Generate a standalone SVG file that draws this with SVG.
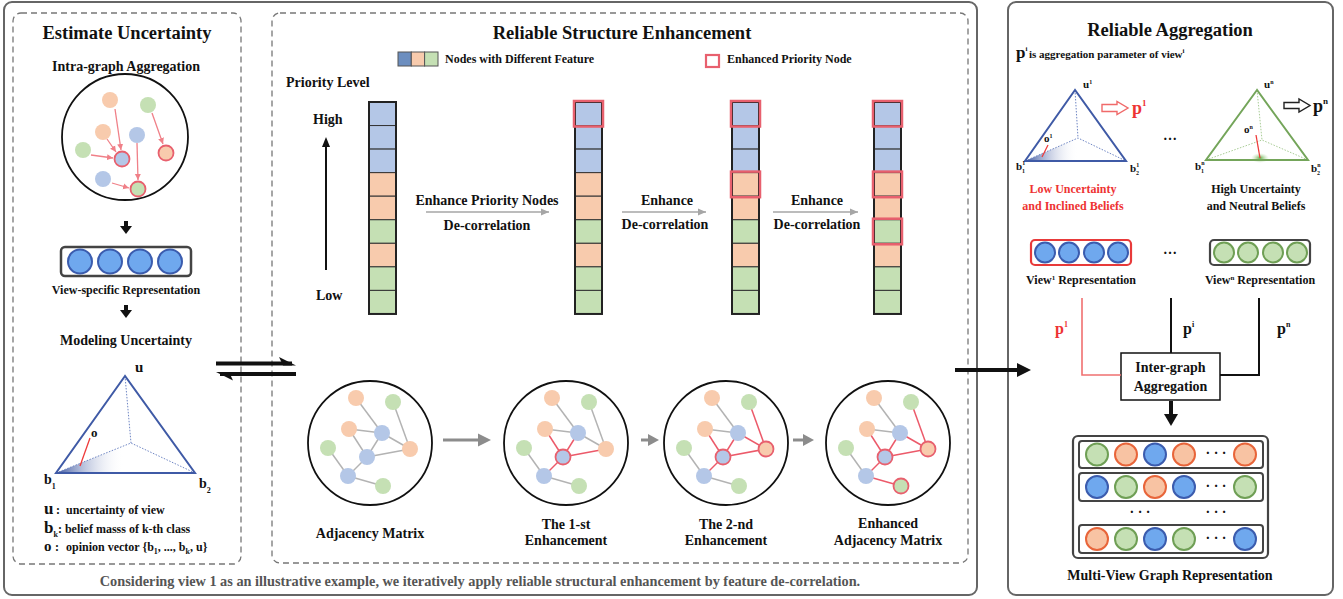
<svg xmlns="http://www.w3.org/2000/svg" width="1343" height="599" viewBox="0 0 1343 599">
<defs>
<style>
text{font-family:"Liberation Serif","Times New Roman",serif;font-weight:bold;fill:#111}
.c{text-anchor:middle}
.t1{font-size:18.5px}
.t2{font-size:14px}
.t3{font-size:12px}
.panel{fill:none;stroke:#666;stroke-width:2}
.dash{fill:none;stroke:#777;stroke-width:1.3;stroke-dasharray:6 4}
.nb{fill:#b4c7e7}
.no{fill:#f8cbad}
.ng{fill:#c5e0b4}
.hl{stroke:#e8606e;stroke-width:1.8}
.eg{stroke:#b3b3b3;stroke-width:1.5}
.er{stroke:#ec5a6a;stroke-width:1.5}
.ring{fill:#fff;stroke:#111;stroke-width:1.8}
.cell{stroke:#333;stroke-width:1}
.colframe{fill:none;stroke:#222;stroke-width:2}
.redbox{fill:none;stroke:#e8606e;stroke-width:2.5}
.pink{stroke:#f08088;stroke-width:1.3;fill:none;marker-end:url(#pinkHead)}
.garrow{stroke:#a6a6a6;stroke-width:1.5;fill:none;marker-end:url(#thinHead)}
.bigarrow{stroke:#8c8c8c;stroke-width:3;fill:none}
.tri{fill:none;stroke-width:2}
.dot{fill:none;stroke-width:1;stroke-dasharray:1.5 1.5}
.rb{fill:#6fa8ee;stroke:#3b5cae;stroke-width:2}
.rg{fill:#c5e0b4;stroke:#6f9f55;stroke-width:2}
.ro{fill:#f8c3a3;stroke:#e8653a;stroke-width:2}
</style>
<marker id="pinkHead" markerUnits="userSpaceOnUse" markerWidth="7" markerHeight="7" refX="6" refY="3.5" orient="auto">
<path d="M0,0.5 L6,3.5 L0,6.5 Z" fill="#f08088"/>
</marker>
<marker id="thinHead" markerUnits="userSpaceOnUse" markerWidth="9" markerHeight="8" refX="8" refY="4" orient="auto">
<path d="M0,0.5 L8,4 L0,7.5 Z" fill="#a6a6a6"/>
</marker>
<linearGradient id="shadeL" gradientUnits="userSpaceOnUse" x1="56" y1="0" x2="124" y2="0">
<stop offset="0" stop-color="#3b559f"/>
<stop offset="1" stop-color="#ffffff" stop-opacity="0"/>
</linearGradient>
<linearGradient id="shadeR" gradientUnits="userSpaceOnUse" x1="1025" y1="0" x2="1078" y2="0">
<stop offset="0" stop-color="#3b559f"/>
<stop offset="1" stop-color="#ffffff" stop-opacity="0"/>
</linearGradient>
<radialGradient id="glowG">
<stop offset="0" stop-color="#5fae45"/>
<stop offset="1" stop-color="#c5e0b4" stop-opacity="0"/>
</radialGradient>
<!-- one 9-cell priority column -->
<g id="column">
<rect class="cell nb" x="0" y="0" width="27" height="23.55"/>
<rect class="cell nb" x="0" y="23.55" width="27" height="23.55"/>
<rect class="cell nb" x="0" y="47.1" width="27" height="23.55"/>
<rect class="cell no" x="0" y="70.65" width="27" height="23.55"/>
<rect class="cell no" x="0" y="94.2" width="27" height="23.55"/>
<rect class="cell ng" x="0" y="117.75" width="27" height="23.55"/>
<rect class="cell no" x="0" y="141.3" width="27" height="23.55"/>
<rect class="cell ng" x="0" y="164.85" width="27" height="23.55"/>
<rect class="cell ng" x="0" y="188.4" width="27" height="23.55"/>
<rect class="colframe" x="0" y="0" width="27" height="211.95"/>
</g>
</defs>

<rect width="1343" height="599" fill="#fff"/>

<!-- panel frames -->
<rect class="panel" x="4" y="2" width="973" height="593" rx="8"/>
<rect class="panel" x="1008" y="2" width="325" height="593" rx="8"/>
<rect class="dash" x="13" y="13" width="228" height="551" rx="8"/>
<rect class="dash" x="272" y="13" width="696" height="550" rx="8"/>

<!-- ===== Estimate Uncertainty ===== -->
<g id="estimate-uncertainty">
<text class="t1 c" x="127" y="39">Estimate Uncertainty</text>
<text class="t2 c" x="126" y="71">Intra-graph Aggregation</text>
</g>

<g id="intra-graph">
<circle class="ring" cx="125" cy="137" r="63"/>
<line class="pink" x1="115" y1="109" x2="121" y2="150"/>
<line class="pink" x1="107" y1="139" x2="116" y2="152"/>
<line class="pink" x1="91" y1="155" x2="113" y2="158"/>
<line class="pink" x1="152" y1="113" x2="163" y2="144"/>
<line class="pink" x1="137" y1="143" x2="138" y2="180"/>
<line class="pink" x1="112" y1="183" x2="129" y2="188"/>
<circle class="no" cx="110" cy="100" r="8"/>
<circle class="ng" cx="148" cy="105" r="8"/>
<circle class="no" cx="103" cy="132" r="8"/>
<circle class="nb" cx="137" cy="135" r="8"/>
<circle class="ng" cx="83" cy="150" r="8"/>
<circle class="nb hl" cx="122" cy="159" r="7.5"/>
<circle class="no hl" cx="166" cy="153" r="7.5"/>
<circle class="nb" cx="103" cy="179" r="8"/>
<circle class="ng hl" cx="138" cy="189" r="7.5"/>
</g>

<g id="view-specific-representation">
<rect x="61" y="247" width="130" height="29" rx="4" fill="#fff" stroke="#444" stroke-width="2.5"/>
<circle class="rb" cx="80" cy="261.5" r="12"/>
<circle class="rb" cx="110" cy="261.5" r="12"/>
<circle class="rb" cx="140" cy="261.5" r="12"/>
<circle class="rb" cx="170" cy="261.5" r="12"/>
<text class="t3 c" x="126" y="294">View-specific Representation</text>
</g>

<g id="modeling-uncertainty">
<text class="t2 c" x="126" y="345">Modeling Uncertainty</text>
<polygon points="56,473 131,443 195,473" fill="url(#shadeL)"/>
<polyline class="dot" stroke="#6f86c4" points="125,376 131,443"/>
<polyline class="dot" stroke="#6f86c4" points="56,473 131,443 195,473"/>
<polygon class="tri" stroke="#3f5aa6" points="125,376 56,473 195,473"/>
<line x1="90" y1="438" x2="80" y2="466" stroke="#ee3b3b" stroke-width="1.3"/>
<text x="135" y="372" style="font-size:15px">u</text>
<text x="91" y="437" style="font-size:13px">o</text>
<text x="44" y="484" style="font-size:14px">b<tspan dy="5" style="font-size:8px">1</tspan></text>
<text x="199" y="488" style="font-size:14px">b<tspan dy="5" style="font-size:8px">2</tspan></text>
<text x="44" y="514" style="font-size:12px"><tspan style="font-size:17px">u</tspan><tspan x="56">:</tspan><tspan x="66">uncertainty of view</tspan></text>
<text x="44" y="533" style="font-size:12px"><tspan style="font-size:17px">b</tspan><tspan dy="4" style="font-size:8px">k</tspan><tspan dy="-4">: belief masss of k-th class</tspan></text>
<text x="44" y="551" style="font-size:12px"><tspan style="font-size:15px">o</tspan><tspan x="55">:</tspan><tspan x="66">opinion vector {b</tspan><tspan dy="3" style="font-size:8px">1</tspan><tspan dy="-3">, ..., b</tspan><tspan dy="3" style="font-size:8px">k</tspan><tspan dy="-3">, u}</tspan></text>
</g>

<!-- ===== Reliable Structure Enhancement ===== -->
<g id="structure-title">
<text class="t1 c" x="622" y="39">Reliable Structure Enhancement</text>
</g>

<g id="legend">
<rect x="398" y="52" width="13.3" height="14" fill="#6c8ebf" stroke="#555" stroke-width="1"/>
<rect x="411.3" y="52" width="13.3" height="14" fill="#f8cbad" stroke="#555" stroke-width="1"/>
<rect x="424.6" y="52" width="13.4" height="14" fill="#c5e0b4" stroke="#555" stroke-width="1"/>
<text class="t3" x="445" y="63">Nodes with Different Feature</text>
<rect x="706" y="55" width="13" height="12" fill="none" stroke="#e8606e" stroke-width="2.2"/>
<text class="t3" x="727" y="63">Enhanced Priority Node</text>
</g>

<g id="priority-axis">
<text class="t2" x="286" y="87">Priority Level</text>
<text class="t2" x="313" y="124">High</text>
<text class="t2" x="316" y="300">Low</text>
<line x1="326" y1="270" x2="326" y2="146" stroke="#111" stroke-width="2"/>
<path d="M326,137 L322,147 L330,147 Z" fill="#111"/>
</g>

<g id="column-0">
<use href="#column" x="369" y="102"/>
</g>
<g id="column-1">
<use href="#column" x="575" y="102"/>
<rect class="redbox" x="574" y="101" width="29" height="25.5"/>
</g>
<g id="column-2">
<use href="#column" x="732" y="102"/>
<rect class="redbox" x="731" y="101" width="29" height="25.5"/>
<rect class="redbox" x="731" y="171.6" width="29" height="25.6"/>
</g>
<g id="column-3">
<use href="#column" x="874" y="102"/>
<rect class="redbox" x="873" y="101" width="29" height="25.5"/>
<rect class="redbox" x="873" y="171.6" width="29" height="25.6"/>
<rect class="redbox" x="873" y="218.7" width="29" height="25.6"/>
</g>

<g id="step-labels">
<text class="t2 c" x="487" y="205">Enhance Priority Nodes</text>
<text class="t2 c" x="487" y="230">De-correlation</text>
<text class="t2 c" x="667" y="205">Enhance</text>
<text class="t2 c" x="665" y="229">De-correlation</text>
<text class="t2 c" x="817" y="205">Enhance</text>
<text class="t2 c" x="817" y="229">De-correlation</text>
</g>

<!-- graph snapshots -->
<g id="graph-adjacency" transform="translate(370,443)">
<circle class="ring" r="62"/>
<line class="eg" x1="-14" y1="-45" x2="12" y2="-10"/>
<line class="eg" x1="23" y1="-41" x2="40" y2="6"/>
<line class="eg" x1="-21" y1="-14" x2="12" y2="-10"/>
<line class="eg" x1="12" y1="-10" x2="40" y2="6"/>
<line class="eg" x1="12" y1="-10" x2="-3" y2="14"/>
<line class="eg" x1="-3" y1="14" x2="40" y2="6"/>
<line class="eg" x1="-21" y1="-14" x2="-3" y2="14"/>
<line class="eg" x1="-42" y1="5" x2="-22" y2="33"/>
<line class="eg" x1="-3" y1="14" x2="-22" y2="33"/>
<line class="eg" x1="-22" y1="33" x2="13" y2="43"/>
<circle class="no" cx="-14" cy="-45" r="8"/>
<circle class="ng" cx="23" cy="-41" r="8"/>
<circle class="no" cx="-21" cy="-14" r="8"/>
<circle class="nb" cx="12" cy="-10" r="8"/>
<circle class="ng" cx="-42" cy="5" r="8"/>
<circle class="no" cx="40" cy="6" r="8"/>
<circle class="nb" cx="-3" cy="14" r="8"/>
<circle class="nb" cx="-22" cy="33" r="8"/>
<circle class="ng" cx="13" cy="43" r="8"/>
<text class="t2 c" x="0" y="95">Adjacency Matrix</text>
</g>

<g id="graph-first" transform="translate(566,443)">
<circle class="ring" r="62"/>
<line class="eg" x1="-14" y1="-45" x2="12" y2="-10"/>
<line class="eg" x1="23" y1="-41" x2="40" y2="6"/>
<line class="eg" x1="-21" y1="-14" x2="12" y2="-10"/>
<line class="eg" x1="12" y1="-10" x2="40" y2="6"/>
<line class="eg" x1="-42" y1="5" x2="-22" y2="33"/>
<line class="eg" x1="-22" y1="33" x2="13" y2="43"/>
<line class="er" x1="12" y1="-10" x2="-3" y2="14"/>
<line class="er" x1="-3" y1="14" x2="40" y2="6"/>
<line class="er" x1="-21" y1="-14" x2="-3" y2="14"/>
<line class="er" x1="-3" y1="14" x2="-22" y2="33"/>
<circle class="no" cx="-14" cy="-45" r="8"/>
<circle class="ng" cx="23" cy="-41" r="8"/>
<circle class="no" cx="-21" cy="-14" r="8"/>
<circle class="nb" cx="12" cy="-10" r="8"/>
<circle class="ng" cx="-42" cy="5" r="8"/>
<circle class="no" cx="40" cy="6" r="8"/>
<circle class="nb hl" cx="-3" cy="14" r="7.5"/>
<circle class="nb" cx="-22" cy="33" r="8"/>
<circle class="ng" cx="13" cy="43" r="8"/>
<text class="t2 c" x="0" y="86">The 1-st</text>
<text class="t2 c" x="0" y="102">Enhancement</text>
</g>

<g id="graph-second" transform="translate(726,443)">
<circle class="ring" r="62"/>
<line class="eg" x1="-14" y1="-45" x2="12" y2="-10"/>
<line class="eg" x1="-21" y1="-14" x2="12" y2="-10"/>
<line class="eg" x1="-42" y1="5" x2="-22" y2="33"/>
<line class="eg" x1="-22" y1="33" x2="13" y2="43"/>
<line class="er" x1="23" y1="-41" x2="40" y2="6"/>
<line class="er" x1="12" y1="-10" x2="40" y2="6"/>
<line class="er" x1="12" y1="-10" x2="-3" y2="14"/>
<line class="er" x1="-3" y1="14" x2="40" y2="6"/>
<line class="er" x1="-21" y1="-14" x2="-3" y2="14"/>
<line class="er" x1="-3" y1="14" x2="-22" y2="33"/>
<circle class="no" cx="-14" cy="-45" r="8"/>
<circle class="ng" cx="23" cy="-41" r="8"/>
<circle class="no" cx="-21" cy="-14" r="8"/>
<circle class="nb" cx="12" cy="-10" r="8"/>
<circle class="ng" cx="-42" cy="5" r="8"/>
<circle class="no hl" cx="40" cy="6" r="7.5"/>
<circle class="nb hl" cx="-3" cy="14" r="7.5"/>
<circle class="nb" cx="-22" cy="33" r="8"/>
<circle class="ng" cx="13" cy="43" r="8"/>
<text class="t2 c" x="0" y="86">The 2-nd</text>
<text class="t2 c" x="0" y="102">Enhancement</text>
</g>

<g id="graph-enhanced" transform="translate(888,443)">
<circle class="ring" r="62"/>
<line class="eg" x1="-14" y1="-45" x2="12" y2="-10"/>
<line class="eg" x1="-21" y1="-14" x2="12" y2="-10"/>
<line class="eg" x1="-42" y1="5" x2="-22" y2="33"/>
<line class="er" x1="-22" y1="33" x2="13" y2="43"/>
<line class="er" x1="23" y1="-41" x2="40" y2="6"/>
<line class="er" x1="12" y1="-10" x2="40" y2="6"/>
<line class="er" x1="12" y1="-10" x2="-3" y2="14"/>
<line class="er" x1="-3" y1="14" x2="40" y2="6"/>
<line class="er" x1="-21" y1="-14" x2="-3" y2="14"/>
<line class="er" x1="-3" y1="14" x2="-22" y2="33"/>
<circle class="no" cx="-14" cy="-45" r="8"/>
<circle class="ng" cx="23" cy="-41" r="8"/>
<circle class="no" cx="-21" cy="-14" r="8"/>
<circle class="nb" cx="12" cy="-10" r="8"/>
<circle class="ng" cx="-42" cy="5" r="8"/>
<circle class="no hl" cx="40" cy="6" r="7.5"/>
<circle class="nb hl" cx="-3" cy="14" r="7.5"/>
<circle class="nb" cx="-22" cy="33" r="8"/>
<circle class="ng hl" cx="13" cy="43" r="7.5"/>
<text class="t2 c" x="0" y="85">Enhanced</text>
<text class="t2 c" x="0" y="102">Adjacency Matrix</text>
</g>

<g id="caption">
<text class="c" x="480" y="586" style="font-size:14.3px;fill:#555">Considering view 1 as an illustrative example, we iteratively apply reliable structural enhancement by feature de-correlation.</text>
</g>

<!-- ===== Reliable Aggregation ===== -->
<g id="aggregation-title">
<text class="t1 c" x="1170" y="36">Reliable Aggregation</text>
<text x="1016" y="58" style="font-size:11px"><tspan style="font-size:17px">p</tspan><tspan dy="-7" style="font-size:7px">i</tspan><tspan x="1029" dy="7">is aggregation parameter of view</tspan><tspan dy="-5" style="font-size:7px">i</tspan></text>
</g>

<g id="view-1-opinion">
<polygon points="1025,161 1078,138 1126,161" fill="url(#shadeR)"/>
<polyline class="dot" stroke="#6f86c4" points="1075,90 1078,138"/>
<polyline class="dot" stroke="#6f86c4" points="1025,161 1078,138 1126,161"/>
<polygon class="tri" stroke="#3f5aa6" points="1075,90 1025,161 1126,161"/>
<line x1="1048" y1="145" x2="1042" y2="157" stroke="#ee3b3b" stroke-width="1.3"/>
<text x="1083" y="88" style="font-size:11px">u<tspan dy="-4" style="font-size:6px">1</tspan></text>
<text x="1044" y="142" style="font-size:11px">o<tspan dy="-4" style="font-size:6px">1</tspan></text>
<text x="1016" y="170" style="font-size:11px">b<tspan dy="-5" style="font-size:6px">1</tspan><tspan x="1022" dy="8" style="font-size:6px">1</tspan></text>
<text x="1130" y="172" style="font-size:11px">b<tspan dy="-5" style="font-size:6px">1</tspan><tspan x="1136" dy="8" style="font-size:6px">2</tspan></text>
<path d="M1102,104.5 H1117 V101.5 L1128,108 L1117,114.5 V111.5 H1102 Z" fill="#fff" stroke="#f06a6a" stroke-width="1.4"/>
<text x="1132" y="114" style="font-size:18px;fill:#ee3333">p<tspan dy="-8" style="font-size:9px;fill:#ee3333">1</tspan></text>
<text class="t3 c" x="1073" y="193" style="fill:#ee3333">Low Uncertainty</text>
<text class="t3 c" x="1073" y="210" style="fill:#ee3333">and Inclined Beliefs</text>
</g>

<text class="c" x="1170" y="140" style="font-size:14px">…</text>

<g id="view-n-opinion">
<ellipse cx="1260" cy="158" rx="9" ry="5" fill="url(#glowG)"/>
<polyline class="dot" stroke="#a8cc95" points="1257,90 1262,140"/>
<polyline class="dot" stroke="#a8cc95" points="1206,160 1262,140 1308,160"/>
<polygon class="tri" stroke="#74a55a" points="1257,90 1206,160 1308,160"/>
<line x1="1256" y1="135" x2="1260" y2="158" stroke="#ee3b3b" stroke-width="1.3"/>
<text x="1264" y="88" style="font-size:11px">u<tspan dy="-4" style="font-size:6px">n</tspan></text>
<text x="1244" y="133" style="font-size:11px">o<tspan dy="-4" style="font-size:6px">n</tspan></text>
<text x="1195" y="170" style="font-size:11px">b<tspan dy="-5" style="font-size:6px">n</tspan><tspan x="1201" dy="8" style="font-size:6px">1</tspan></text>
<text x="1311" y="172" style="font-size:11px">b<tspan dy="-5" style="font-size:6px">n</tspan><tspan x="1317" dy="8" style="font-size:6px">2</tspan></text>
<path d="M1284,102.5 H1299 V99 L1310,105.5 L1299,112 V108.5 H1284 Z" fill="#fff" stroke="#222" stroke-width="1.4"/>
<text x="1313" y="112" style="font-size:18px">p<tspan dy="-8" style="font-size:9px">n</tspan></text>
<text class="t3 c" x="1256" y="193">High Uncertainty</text>
<text class="t3 c" x="1256" y="210">and Neutral Beliefs</text>
</g>

<g id="view-1-representation">
<rect x="1031" y="240" width="100" height="25" rx="4" fill="#fff" stroke="#e83a3a" stroke-width="2.2"/>
<circle class="rb" cx="1045" cy="252.5" r="10"/>
<circle class="rb" cx="1069" cy="252.5" r="10"/>
<circle class="rb" cx="1094" cy="252.5" r="10"/>
<circle class="rb" cx="1118" cy="252.5" r="10"/>
<text class="t3 c" x="1081" y="284">View<tspan dy="-4" style="font-size:7px">1</tspan><tspan dy="4"> Representation</tspan></text>
</g>

<text class="c" x="1170" y="254" style="font-size:14px">…</text>

<g id="view-n-representation">
<rect x="1210" y="240" width="100" height="25" rx="4" fill="#fff" stroke="#444" stroke-width="2.2"/>
<circle class="rg" cx="1224" cy="252.5" r="10"/>
<circle class="rg" cx="1248" cy="252.5" r="10"/>
<circle class="rg" cx="1273" cy="252.5" r="10"/>
<circle class="rg" cx="1297" cy="252.5" r="10"/>
<text class="t3 c" x="1260" y="284">View<tspan dy="-4" style="font-size:7px">n</tspan><tspan dy="4"> Representation</tspan></text>
</g>

<g id="inter-graph-aggregation">
<rect x="1121" y="353" width="99" height="47" fill="#fff" stroke="#111" stroke-width="1.5"/>
<text class="t2 c" x="1170.5" y="372">Inter-graph</text>
<text class="t2 c" x="1170.5" y="391">Aggregation</text>
</g>

<g id="multi-view-representation">
<rect x="1073" y="436" width="195" height="122" rx="5" fill="#fff" stroke="#444" stroke-width="2.2"/>
<rect x="1079" y="441" width="184" height="27" rx="3" fill="none" stroke="#444" stroke-width="2"/>
<rect x="1079" y="473" width="184" height="28" rx="3" fill="none" stroke="#444" stroke-width="2"/>
<rect x="1079" y="525" width="184" height="28" rx="3" fill="none" stroke="#444" stroke-width="2"/>
<circle class="rg" cx="1097" cy="454.5" r="11"/>
<circle class="ro" cx="1126" cy="454.5" r="11"/>
<circle class="rb" cx="1155" cy="454.5" r="11"/>
<circle class="ro" cx="1184" cy="454.5" r="11"/>
<circle class="ro" cx="1245" cy="454.5" r="11"/>
<circle class="rb" cx="1097" cy="487" r="11"/>
<circle class="rg" cx="1126" cy="487" r="11"/>
<circle class="ro" cx="1155" cy="487" r="11"/>
<circle class="rb" cx="1184" cy="487" r="11"/>
<circle class="rg" cx="1245" cy="487" r="11"/>
<circle class="ro" cx="1097" cy="539" r="11"/>
<circle class="rg" cx="1126" cy="539" r="11"/>
<circle class="rb" cx="1155" cy="539" r="11"/>
<circle class="rg" cx="1184" cy="539" r="11"/>
<circle class="rb" cx="1245" cy="539" r="11"/>
<text class="c" x="1216" y="458" style="font-size:14px">· · ·</text>
<text class="c" x="1216" y="491" style="font-size:14px">· · ·</text>
<text class="c" x="1140" y="517" style="font-size:14px">· · ·</text>
<text class="c" x="1216" y="517" style="font-size:14px">· · ·</text>
<text class="c" x="1216" y="543" style="font-size:14px">· · ·</text>
<text class="t2 c" x="1170" y="580">Multi-View Graph Representation</text>
</g>

<!-- connectors -->
<g id="connectors">
<!-- left panel down arrows -->
<rect x="124" y="221" width="4" height="6" fill="#111"/>
<path d="M120,226 L132,226 L126,234 Z" fill="#111"/>
<rect x="124" y="305" width="4" height="6" fill="#111"/>
<path d="M120,310 L132,310 L126,318 Z" fill="#111"/>
<!-- harpoons between first two panels -->
<rect x="216" y="361.5" width="76" height="4" fill="#111"/>
<path d="M296,365.5 L279,357 L283,365.5 Z" fill="#111"/>
<rect x="220" y="372" width="76" height="4" fill="#111"/>
<path d="M216,372 L233,380.5 L229,372 Z" fill="#111"/>
<!-- column transitions -->
<line class="garrow" x1="426" y1="212" x2="549" y2="212"/>
<line class="garrow" x1="622" y1="212" x2="706" y2="212"/>
<line class="garrow" x1="773" y1="212" x2="858" y2="212"/>
<!-- graph transitions -->
<line class="bigarrow" x1="443" y1="440" x2="480" y2="440"/>
<path d="M491,440 L478,433.5 L478,446.5 Z" fill="#8c8c8c"/>
<line class="bigarrow" x1="641" y1="440" x2="650" y2="440"/>
<path d="M659,440 L648,434 L648,446 Z" fill="#8c8c8c"/>
<line class="bigarrow" x1="793" y1="440" x2="804" y2="440"/>
<path d="M814,440 L803,434 L803,446 Z" fill="#8c8c8c"/>
<!-- into aggregation panel -->
<rect x="955" y="368" width="65" height="4" fill="#111"/>
<path d="M1031,370 L1017,363 L1017,377 Z" fill="#111"/>
<!-- view weights into inter-graph aggregation -->
<polyline points="1082,298 1082,375 1121,375" fill="none" stroke="#f07070" stroke-width="1.6"/>
<line x1="1171" y1="298" x2="1171" y2="353" stroke="#111" stroke-width="2"/>
<polyline points="1259,298 1259,375 1220,375" fill="none" stroke="#111" stroke-width="2"/>
<text x="1055" y="334" style="font-size:16px;fill:#ee3333">p<tspan dy="-7" style="font-size:8px;fill:#ee3333">1</tspan></text>
<text x="1183" y="334" style="font-size:16px">p<tspan dy="-7" style="font-size:8px">i</tspan></text>
<text x="1277" y="334" style="font-size:16px">p<tspan dy="-7" style="font-size:8px">n</tspan></text>
<rect x="1169" y="401" width="4" height="15" fill="#111"/>
<path d="M1164,414 L1178,414 L1171,426 Z" fill="#111"/>
</g>
</svg>
